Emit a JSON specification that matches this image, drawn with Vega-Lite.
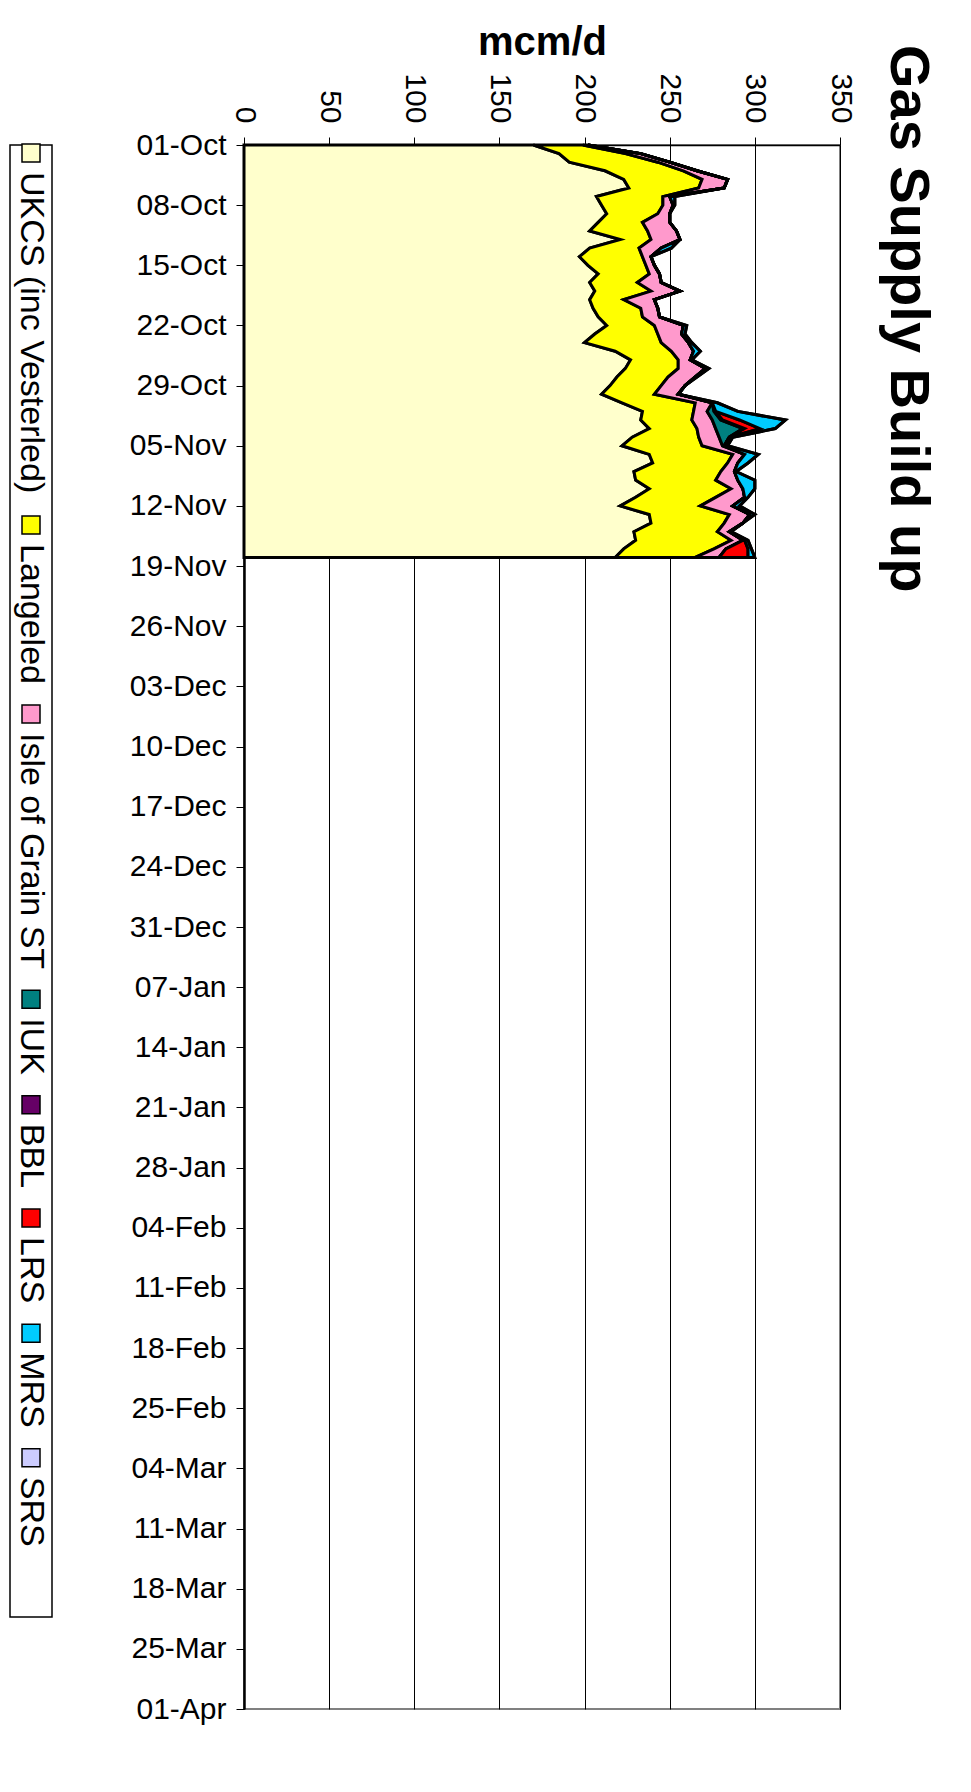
{
  "$schema": "https://vega.github.io/schema/vega-lite/v6.json",
  "background": "white",
  "padding": {"left": 9, "top": 21, "right": 10, "bottom": 5},
  "spacing": 75,
  "config": {
    "font": "Liberation Sans",
    "view": {"stroke": null}
  },
  "resolve": {"scale": {"color": "independent", "y": "independent", "x": "independent"}},
  "hconcat": [
    {
      "width": 42,
      "height": 1472,
      "view": {"stroke": "black", "strokeWidth": 1.5},
      "data": {"values": [
        {"series": "UKCS (inc Vesterled)"},
        {"series": "Langeled"},
        {"series": "Isle of Grain ST"},
        {"series": "IUK"},
        {"series": "BBL"},
        {"series": "LRS"},
        {"series": "MRS"},
        {"series": "SRS"}
      ]},
      "transform": [
        {"calculate": "indexof(['UKCS (inc Vesterled)','Langeled','Isle of Grain ST','IUK','BBL','LRS','MRS','SRS'], datum.series)", "as": "ord"},
        {"calculate": "[9.502, 4.114, 6.947, 1.667, 1.89, 1.945, 2.222, 2.056][datum.ord]", "as": "em"},
        {"calculate": "34 * datum.em + 49", "as": "pitch"},
        {"window": [{"op": "sum", "field": "pitch", "as": "cum"}], "sort": [{"field": "ord"}], "frame": [null, 0]},
        {"calculate": "datum.cum - datum.pitch + 8", "as": "mpos"},
        {"calculate": "datum.mpos + 19", "as": "tpos"}
      ],
      "layer": [
        {
          "mark": {"type": "square", "size": 324, "stroke": "black", "strokeWidth": 1.5, "opacity": 1},
          "encoding": {
            "y": {"field": "mpos", "type": "quantitative", "scale": {"domain": [0, 1472], "nice": false, "zero": false, "reverse": true}, "axis": null},
            "fill": {"field": "series", "type": "nominal", "scale": {"domain": ["UKCS (inc Vesterled)","Langeled","Isle of Grain ST","IUK","BBL","LRS","MRS","SRS"], "range": ["#FFFFCC","#FFFF00","#FF99CC","#008080","#660066","#FF0000","#00CCFF","#CCCCFF"]}, "legend": null}
          }
        },
        {
          "mark": {"type": "text", "angle": 90, "align": "left", "baseline": "middle", "fontSize": 34, "color": "black"},
          "encoding": {
            "y": {"field": "tpos", "type": "quantitative", "axis": null},
            "text": {"field": "series", "type": "nominal"}
          }
        }
      ]
    },
    {
      "width": 596,
      "height": 1564,
      "view": {"stroke": "#808080", "strokeWidth": 2},
      "title": {"text": "Gas Supply Build up", "orient": "right", "anchor": "start", "fontSize": 56, "fontWeight": "bold", "color": "black", "offset": 24, "dx": 22},
      "data": {"values": [
        {"date": "2006-10-01", "UKCS (inc Vesterled)": 170, "Langeled": 29, "Isle of Grain ST": 3, "IUK": 0, "BBL": 0, "LRS": 0, "MRS": 0, "SRS": 0},
        {"date": "2006-10-02", "UKCS (inc Vesterled)": 185, "Langeled": 39, "Isle of Grain ST": 9, "IUK": 0, "BBL": 0, "LRS": 0, "MRS": 0, "SRS": 0},
        {"date": "2006-10-03", "UKCS (inc Vesterled)": 191, "Langeled": 52, "Isle of Grain ST": 7, "IUK": 0, "BBL": 0, "LRS": 0, "MRS": 0, "SRS": 0},
        {"date": "2006-10-04", "UKCS (inc Vesterled)": 212, "Langeled": 46, "Isle of Grain ST": 8, "IUK": 0, "BBL": 0, "LRS": 0, "MRS": 0, "SRS": 0},
        {"date": "2006-10-05", "UKCS (inc Vesterled)": 223, "Langeled": 46, "Isle of Grain ST": 15, "IUK": 0, "BBL": 0, "LRS": 0, "MRS": 0, "SRS": 0},
        {"date": "2006-10-06", "UKCS (inc Vesterled)": 226, "Langeled": 41, "Isle of Grain ST": 15, "IUK": 0, "BBL": 0, "LRS": 0, "MRS": 0, "SRS": 0},
        {"date": "2006-10-07", "UKCS (inc Vesterled)": 207, "Langeled": 39, "Isle of Grain ST": 4, "IUK": 0, "BBL": 0, "LRS": 0, "MRS": 3, "SRS": 0},
        {"date": "2006-10-08", "UKCS (inc Vesterled)": 210, "Langeled": 36, "Isle of Grain ST": 6, "IUK": 0, "BBL": 0, "LRS": 0, "MRS": 1, "SRS": 0},
        {"date": "2006-10-09", "UKCS (inc Vesterled)": 213, "Langeled": 30, "Isle of Grain ST": 7, "IUK": 0, "BBL": 0, "LRS": 0, "MRS": 0, "SRS": 0},
        {"date": "2006-10-10", "UKCS (inc Vesterled)": 208, "Langeled": 26, "Isle of Grain ST": 16, "IUK": 0, "BBL": 0, "LRS": 0, "MRS": 0, "SRS": 0},
        {"date": "2006-10-11", "UKCS (inc Vesterled)": 203, "Langeled": 34, "Isle of Grain ST": 17, "IUK": 0, "BBL": 0, "LRS": 0, "MRS": 0, "SRS": 0},
        {"date": "2006-10-12", "UKCS (inc Vesterled)": 221, "Langeled": 18, "Isle of Grain ST": 17, "IUK": 0, "BBL": 0, "LRS": 0, "MRS": 0, "SRS": 0},
        {"date": "2006-10-13", "UKCS (inc Vesterled)": 203, "Langeled": 29, "Isle of Grain ST": 13, "IUK": 0, "BBL": 0, "LRS": 0, "MRS": 6, "SRS": 0},
        {"date": "2006-10-14", "UKCS (inc Vesterled)": 197, "Langeled": 37, "Isle of Grain ST": 5, "IUK": 0, "BBL": 0, "LRS": 0, "MRS": 0, "SRS": 0},
        {"date": "2006-10-15", "UKCS (inc Vesterled)": 202, "Langeled": 34, "Isle of Grain ST": 5, "IUK": 0, "BBL": 0, "LRS": 0, "MRS": 0, "SRS": 0},
        {"date": "2006-10-16", "UKCS (inc Vesterled)": 208, "Langeled": 30, "Isle of Grain ST": 6, "IUK": 0, "BBL": 0, "LRS": 0, "MRS": 0, "SRS": 0},
        {"date": "2006-10-17", "UKCS (inc Vesterled)": 203, "Langeled": 28, "Isle of Grain ST": 14, "IUK": 0, "BBL": 0, "LRS": 0, "MRS": 0, "SRS": 0},
        {"date": "2006-10-18", "UKCS (inc Vesterled)": 206, "Langeled": 33, "Isle of Grain ST": 17, "IUK": 0, "BBL": 0, "LRS": 0, "MRS": 0, "SRS": 0},
        {"date": "2006-10-19", "UKCS (inc Vesterled)": 203, "Langeled": 20, "Isle of Grain ST": 18, "IUK": 0, "BBL": 0, "LRS": 0, "MRS": 0, "SRS": 0},
        {"date": "2006-10-20", "UKCS (inc Vesterled)": 205, "Langeled": 28, "Isle of Grain ST": 10, "IUK": 0, "BBL": 0, "LRS": 0, "MRS": 0, "SRS": 0},
        {"date": "2006-10-21", "UKCS (inc Vesterled)": 208, "Langeled": 26, "Isle of Grain ST": 10, "IUK": 0, "BBL": 0, "LRS": 0, "MRS": 0, "SRS": 0},
        {"date": "2006-10-22", "UKCS (inc Vesterled)": 213, "Langeled": 28, "Isle of Grain ST": 17, "IUK": 0, "BBL": 0, "LRS": 0, "MRS": 2, "SRS": 0},
        {"date": "2006-10-23", "UKCS (inc Vesterled)": 206, "Langeled": 37, "Isle of Grain ST": 14, "IUK": 0, "BBL": 0, "LRS": 0, "MRS": 2, "SRS": 0},
        {"date": "2006-10-24", "UKCS (inc Vesterled)": 200, "Langeled": 45, "Isle of Grain ST": 16, "IUK": 0, "BBL": 0, "LRS": 0, "MRS": 2, "SRS": 0},
        {"date": "2006-10-25", "UKCS (inc Vesterled)": 218, "Langeled": 33, "Isle of Grain ST": 13, "IUK": 0, "BBL": 0, "LRS": 0, "MRS": 4, "SRS": 0},
        {"date": "2006-10-26", "UKCS (inc Vesterled)": 227, "Langeled": 28, "Isle of Grain ST": 7, "IUK": 0, "BBL": 0, "LRS": 0, "MRS": 1, "SRS": 0},
        {"date": "2006-10-27", "UKCS (inc Vesterled)": 224, "Langeled": 31, "Isle of Grain ST": 16, "IUK": 0, "BBL": 0, "LRS": 0, "MRS": 2, "SRS": 0},
        {"date": "2006-10-28", "UKCS (inc Vesterled)": 219, "Langeled": 30, "Isle of Grain ST": 16, "IUK": 0, "BBL": 0, "LRS": 0, "MRS": 1, "SRS": 0},
        {"date": "2006-10-29", "UKCS (inc Vesterled)": 215, "Langeled": 30, "Isle of Grain ST": 14, "IUK": 0, "BBL": 0, "LRS": 0, "MRS": 0, "SRS": 0},
        {"date": "2006-10-30", "UKCS (inc Vesterled)": 210, "Langeled": 31, "Isle of Grain ST": 14, "IUK": 0, "BBL": 0, "LRS": 0, "MRS": 0, "SRS": 0},
        {"date": "2006-10-31", "UKCS (inc Vesterled)": 222, "Langeled": 43, "Isle of Grain ST": 10, "IUK": 0, "BBL": 0, "LRS": 0, "MRS": 3, "SRS": 0},
        {"date": "2006-11-01", "UKCS (inc Vesterled)": 234, "Langeled": 30, "Isle of Grain ST": 8, "IUK": 4, "BBL": 1, "LRS": 0, "MRS": 13, "SRS": 0},
        {"date": "2006-11-02", "UKCS (inc Vesterled)": 233, "Langeled": 30, "Isle of Grain ST": 12, "IUK": 5, "BBL": 1, "LRS": 10, "MRS": 27, "SRS": 0},
        {"date": "2006-11-03", "UKCS (inc Vesterled)": 238, "Langeled": 28, "Isle of Grain ST": 11, "IUK": 16, "BBL": 1, "LRS": 9, "MRS": 9, "SRS": 0},
        {"date": "2006-11-04", "UKCS (inc Vesterled)": 228, "Langeled": 39, "Isle of Grain ST": 12, "IUK": 6, "BBL": 0, "LRS": 0, "MRS": 2, "SRS": 0},
        {"date": "2006-11-05", "UKCS (inc Vesterled)": 222, "Langeled": 47, "Isle of Grain ST": 12, "IUK": 1, "BBL": 0, "LRS": 0, "MRS": 2, "SRS": 0},
        {"date": "2006-11-06", "UKCS (inc Vesterled)": 238, "Langeled": 49, "Isle of Grain ST": 7, "IUK": 0, "BBL": 0, "LRS": 0, "MRS": 8, "SRS": 0},
        {"date": "2006-11-07", "UKCS (inc Vesterled)": 240, "Langeled": 44, "Isle of Grain ST": 6, "IUK": 0, "BBL": 0, "LRS": 0, "MRS": 6, "SRS": 0},
        {"date": "2006-11-08", "UKCS (inc Vesterled)": 229, "Langeled": 51, "Isle of Grain ST": 8, "IUK": 0, "BBL": 0, "LRS": 0, "MRS": 1, "SRS": 0},
        {"date": "2006-11-09", "UKCS (inc Vesterled)": 230, "Langeled": 47, "Isle of Grain ST": 13, "IUK": 0, "BBL": 0, "LRS": 0, "MRS": 10, "SRS": 0},
        {"date": "2006-11-10", "UKCS (inc Vesterled)": 238, "Langeled": 48, "Isle of Grain ST": 7, "IUK": 0, "BBL": 0, "LRS": 0, "MRS": 7, "SRS": 0},
        {"date": "2006-11-11", "UKCS (inc Vesterled)": 230, "Langeled": 47, "Isle of Grain ST": 17, "IUK": 0, "BBL": 0, "LRS": 0, "MRS": 2, "SRS": 0},
        {"date": "2006-11-12", "UKCS (inc Vesterled)": 221, "Langeled": 47, "Isle of Grain ST": 19, "IUK": 0, "BBL": 0, "LRS": 0, "MRS": 4, "SRS": 0},
        {"date": "2006-11-13", "UKCS (inc Vesterled)": 238, "Langeled": 47, "Isle of Grain ST": 12, "IUK": 0, "BBL": 0, "LRS": 0, "MRS": 3, "SRS": 0},
        {"date": "2006-11-14", "UKCS (inc Vesterled)": 239, "Langeled": 43, "Isle of Grain ST": 11, "IUK": 0, "BBL": 0, "LRS": 0, "MRS": 0, "SRS": 0},
        {"date": "2006-11-15", "UKCS (inc Vesterled)": 229, "Langeled": 49, "Isle of Grain ST": 7, "IUK": 0, "BBL": 0, "LRS": 0, "MRS": 1, "SRS": 0},
        {"date": "2006-11-16", "UKCS (inc Vesterled)": 230, "Langeled": 56, "Isle of Grain ST": 7, "IUK": 0, "BBL": 0, "LRS": 1, "MRS": 2, "SRS": 0},
        {"date": "2006-11-17", "UKCS (inc Vesterled)": 223, "Langeled": 53, "Isle of Grain ST": 7, "IUK": 0, "BBL": 0, "LRS": 13, "MRS": 2, "SRS": 0},
        {"date": "2006-11-18", "UKCS (inc Vesterled)": 218, "Langeled": 47, "Isle of Grain ST": 14, "IUK": 0, "BBL": 0, "LRS": 17, "MRS": 4, "SRS": 0}
      ]},
      "transform": [
        {"fold": ["UKCS (inc Vesterled)","Langeled","Isle of Grain ST","IUK","BBL","LRS","MRS","SRS"], "as": ["series", "value"]},
        {"calculate": "indexof(['UKCS (inc Vesterled)','Langeled','Isle of Grain ST','IUK','BBL','LRS','MRS','SRS'], datum.series)", "as": "ord"}
      ],
      "mark": {"type": "area", "stroke": "black", "strokeWidth": 3, "strokeJoin": "miter", "opacity": 1, "fillOpacity": 1},
      "encoding": {
        "y": {
          "field": "date", "type": "temporal",
          "scale": {"type": "utc", "reverse": true, "domain": [{"year": 2006, "month": 10, "date": 1, "utc": true}, {"year": 2007, "month": 4, "date": 1, "utc": true}]},
          "axis": {
            "title": null, "grid": false, "format": "%d-%b",
            "values": [
              {"year": 2006, "month": 10, "date": 1, "utc": true}, {"year": 2006, "month": 10, "date": 8, "utc": true}, {"year": 2006, "month": 10, "date": 15, "utc": true}, {"year": 2006, "month": 10, "date": 22, "utc": true}, {"year": 2006, "month": 10, "date": 29, "utc": true},
              {"year": 2006, "month": 11, "date": 5, "utc": true}, {"year": 2006, "month": 11, "date": 12, "utc": true}, {"year": 2006, "month": 11, "date": 19, "utc": true}, {"year": 2006, "month": 11, "date": 26, "utc": true},
              {"year": 2006, "month": 12, "date": 3, "utc": true}, {"year": 2006, "month": 12, "date": 10, "utc": true}, {"year": 2006, "month": 12, "date": 17, "utc": true}, {"year": 2006, "month": 12, "date": 24, "utc": true}, {"year": 2006, "month": 12, "date": 31, "utc": true},
              {"year": 2007, "month": 1, "date": 7, "utc": true}, {"year": 2007, "month": 1, "date": 14, "utc": true}, {"year": 2007, "month": 1, "date": 21, "utc": true}, {"year": 2007, "month": 1, "date": 28, "utc": true},
              {"year": 2007, "month": 2, "date": 4, "utc": true}, {"year": 2007, "month": 2, "date": 11, "utc": true}, {"year": 2007, "month": 2, "date": 18, "utc": true}, {"year": 2007, "month": 2, "date": 25, "utc": true},
              {"year": 2007, "month": 3, "date": 4, "utc": true}, {"year": 2007, "month": 3, "date": 11, "utc": true}, {"year": 2007, "month": 3, "date": 18, "utc": true}, {"year": 2007, "month": 3, "date": 25, "utc": true},
              {"year": 2007, "month": 4, "date": 1, "utc": true}
            ],
            "labelFontSize": 30, "labelColor": "black", "labelPadding": 10,
            "domainColor": "black", "domainWidth": 2.5, "tickColor": "black", "tickSize": 8, "tickWidth": 1,
            "labelOverlap": false
          }
        },
        "x": {
          "field": "value", "type": "quantitative", "stack": "zero",
          "scale": {"domain": [0, 350], "nice": false},
          "axis": {
            "orient": "top", "values": [0, 50, 100, 150, 200, 250, 300, 350],
            "labelAngle": 90, "labelFontSize": 30, "labelColor": "black", "labelPadding": 14,
            "title": "mcm/d", "titleFontSize": 40, "titleFontWeight": "bold", "titleColor": "black", "titlePadding": 10,
            "grid": true, "gridColor": "black", "gridWidth": 1,
            "domainColor": "black", "domainWidth": 1.5, "tickColor": "black", "tickSize": 8, "tickWidth": 1
          }
        },
        "color": {
          "field": "series", "type": "nominal",
          "scale": {"domain": ["UKCS (inc Vesterled)","Langeled","Isle of Grain ST","IUK","BBL","LRS","MRS","SRS"], "range": ["#FFFFCC","#FFFF00","#FF99CC","#008080","#660066","#FF0000","#00CCFF","#CCCCFF"]},
          "legend": null
        },
        "order": {"field": "ord", "type": "quantitative"}
      }
    }
  ]
}
